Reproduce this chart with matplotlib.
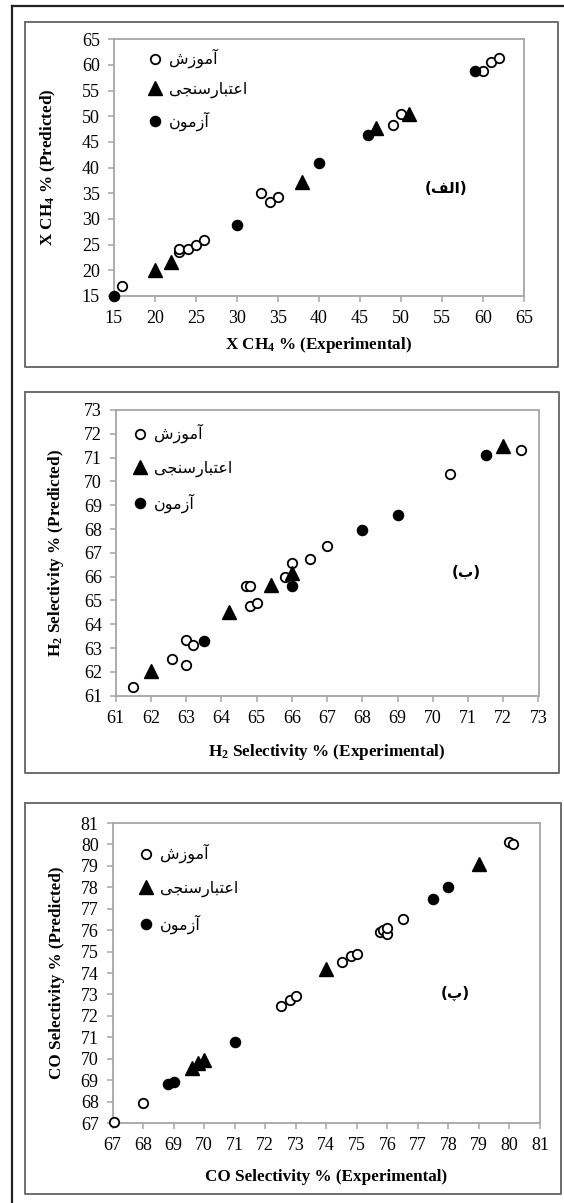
import matplotlib
matplotlib.use("Agg")
import matplotlib.pyplot as plt
from matplotlib.lines import Line2D

# ---------------- data ----------------
# Panel (الف): X CH4 %
ch4_train_x = [16, 23, 23, 24, 25, 26, 33, 34, 35, 49, 50, 60, 61, 62]
ch4_train_y = [17, 23.6, 24.1, 24.1, 24.9, 26, 35, 33.4, 34.2, 48.4, 50.4, 58.8, 60.5, 61.3]
ch4_val_x = [20, 22, 38, 47, 51]
ch4_val_y = [20, 21.7, 37.2, 47.8, 50.5]
ch4_test_x = [15, 30, 40, 46, 59]
ch4_test_y = [15, 28.9, 41, 46.4, 58.8]

# Panel (ب): H2 selectivity %
h2_train_x = [61.5, 62.6, 63, 63, 63.2, 64.7, 64.8, 64.8, 65, 65.8, 66, 66.5, 67, 70.5, 72.5]
h2_train_y = [61.35, 62.55, 62.3, 63.33, 63.15, 65.6, 65.6, 64.78, 64.9, 66.0, 66.57, 66.75, 67.27, 70.3, 71.3]
h2_val_x = [62, 64.2, 65.4, 66, 72]
h2_val_y = [62.05, 64.5, 65.65, 66.15, 71.5]
h2_test_x = [63.5, 66, 68, 69, 71.5]
h2_test_y = [63.3, 65.62, 67.97, 68.57, 71.1]

# Panel (پ): CO selectivity %
co_train_x = [67.05, 68, 72.5, 72.8, 73, 74.5, 74.8, 75, 75.75, 75.85, 76, 76, 76.5, 80, 80.1]
co_train_y = [67.05, 67.95, 72.45, 72.75, 72.95, 74.5, 74.8, 74.88, 75.9, 76.0, 75.82, 76.1, 76.5, 80.1, 80.0]
co_val_x = [69.6, 69.8, 70, 74, 79]
co_val_y = [69.55, 69.8, 69.95, 74.2, 79.1]
co_test_x = [68.8, 69, 71, 77.5, 78]
co_test_y = [68.8, 68.9, 70.8, 77.45, 78]

legend_labels = ['آموزش', 'اعتبارسنجی', 'آزمون']
panel_tags = ['(الف)', '(ب)', '(پ)']

ch4_ticks = list(range(15, 66, 5))
h2_ticks = list(range(61, 74, 1))
co_ticks = list(range(67, 82, 1))

xlabels = [r'X CH$_\mathbf{4}$ % (Experimental)',
           r'H$_\mathbf{2}$ Selectivity % (Experimental)',
           'CO Selectivity % (Experimental)']
ylabels = [r'X CH$_\mathbf{4}$ % (Predicted)',
           r'H$_\mathbf{2}$ Selectivity % (Predicted)',
           'CO Selectivity % (Predicted)']

# ------------- simple Persian shaping for display -------------
FORMS = {
    '\u0622': ('\uFE81', '\uFE82', None, None),
    '\u0627': ('\uFE8D', '\uFE8E', None, None),
    '\u0628': ('\uFE8F', '\uFE90', '\uFE91', '\uFE92'),
    '\u062A': ('\uFE95', '\uFE96', '\uFE97', '\uFE98'),
    '\u062C': ('\uFE9D', '\uFE9E', '\uFE9F', '\uFEA0'),
    '\u0631': ('\uFEAD', '\uFEAE', None, None),
    '\u0632': ('\uFEAF', '\uFEB0', None, None),
    '\u0633': ('\uFEB1', '\uFEB2', '\uFEB3', '\uFEB4'),
    '\u0634': ('\uFEB5', '\uFEB6', '\uFEB7', '\uFEB8'),
    '\u0639': ('\uFEC9', '\uFECA', '\uFECB', '\uFECC'),
    '\u0641': ('\uFED1', '\uFED2', '\uFED3', '\uFED4'),
    '\u0644': ('\uFEDD', '\uFEDE', '\uFEDF', '\uFEE0'),
    '\u0645': ('\uFEE1', '\uFEE2', '\uFEE3', '\uFEE4'),
    '\u0646': ('\uFEE5', '\uFEE6', '\uFEE7', '\uFEE8'),
    '\u0648': ('\uFEED', '\uFEEE', None, None),
    '\u067E': ('\uFB56', '\uFB57', '\uFB58', '\uFB59'),
    '\u06CC': ('\uFBFC', '\uFBFD', '\uFBFE', '\uFBFF'),
}


def shape(s):
    out = []
    for i, c in enumerate(s):
        if c not in FORMS:
            out.append(c)
            continue
        f = FORMS[c]
        prev = s[i - 1] if i > 0 else None
        nxt = s[i + 1] if i + 1 < len(s) else None
        jp = prev in FORMS and FORMS[prev][2] is not None
        jn = f[2] is not None and nxt in FORMS
        if jp and jn:
            out.append(f[3])
        elif jp:
            out.append(f[1])
        elif jn:
            out.append(f[2])
        else:
            out.append(f[0])
    vis = ''.join(reversed(out))
    return vis.translate(str.maketrans('()', ')('))


# ---------------- figure ----------------
plt.rcParams['font.family'] = ['Liberation Serif', 'DejaVu Sans']
plt.rcParams['mathtext.fontset'] = 'custom'
plt.rcParams['mathtext.rm'] = 'Liberation Serif'
plt.rcParams['mathtext.it'] = 'Liberation Serif:italic'
plt.rcParams['mathtext.bf'] = 'Liberation Serif:bold'

W, H = 564, 1203
fig = plt.figure(figsize=(W / 100, H / 100), dpi=100)


def ax_rect(l, t, r, b):
    return [l / W, 1 - b / H, (r - l) / W, (b - t) / H]


# outer frame (left & top only visible)
fig.add_artist(Line2D([12 / W, 12 / W], [0, 1 - 6 / H], transform=fig.transFigure,
                      color='#222222', lw=1.6))
fig.add_artist(Line2D([12 / W, 1], [1 - 6 / H, 1 - 6 / H], transform=fig.transFigure,
                      color='#222222', lw=1.6))

panel_boxes = [(24.5, 21.7, 558, 366.7), (24.5, 392, 559, 773), (24.5, 802.7, 561, 1194)]
for (l, t, r, b) in panel_boxes:
    xs = [l / W, r / W, r / W, l / W, l / W]
    ys = [1 - t / H, 1 - t / H, 1 - b / H, 1 - b / H, 1 - t / H]
    fig.add_artist(Line2D(xs, ys, transform=fig.transFigure, color='#6e6e6e', lw=1.4))

axes_px = [(113.7, 39.3, 524, 296), (115.8, 410, 538.5, 695.7), (112.6, 823, 540, 1123)]

panels = [
    (ch4_train_x, ch4_train_y, ch4_val_x, ch4_val_y, ch4_test_x, ch4_test_y, ch4_ticks),
    (h2_train_x, h2_train_y, h2_val_x, h2_val_y, h2_test_x, h2_test_y, h2_ticks),
    (co_train_x, co_train_y, co_val_x, co_val_y, co_test_x, co_test_y, co_ticks),
]

# label/legend/tag placement (pixels)
ylabel_x = [48, 56, 57.5]
xlabel_y = [345, 751.7, 1176.7]
legend_anchor = [(147, 49), (132, 424), (138, 844)]
tag_pos = [(55.5, 36), (70.94, 66.17), (78.24, 73.03)]
legend_spacing = [0.85, 1.05, 1.1]

spine_col = '#a6a6a6'
for i, (tx, ty, vx, vy, sx, sy, ticks) in enumerate(panels):
    l, t, r, b = axes_px[i]
    ax = fig.add_axes(ax_rect(l, t, r, b))
    ax.plot(tx, ty, 'o', mfc='white', mec='black', mew=1.3, ms=6.8,
            label=shape(legend_labels[0]), zorder=3, clip_on=False)
    ax.plot(vx, vy, '^', color='black', ms=9.5, label=shape(legend_labels[1]),
            zorder=3, clip_on=False)
    ax.plot(sx, sy, 'o', color='black', ms=7.3, label=shape(legend_labels[2]),
            zorder=3, clip_on=False)
    ax.set_xlim(ticks[0], ticks[-1])
    ax.set_ylim(ticks[0], ticks[-1])
    ax.set_xticks(ticks)
    ax.set_yticks(ticks)
    for sp in ax.spines.values():
        sp.set_color(spine_col)
        sp.set_linewidth(1.3)
    ax.tick_params(direction='out', length=4, width=1.1, color=spine_col,
                   labelsize=13, labelcolor='black', pad=6)
    for lab in ax.get_xticklabels() + ax.get_yticklabels():
        lab.set_fontfamily('Liberation Serif')

    ax.set_xlabel(xlabels[i], fontsize=12.3, fontweight='bold', family='Liberation Serif')
    ax.set_ylabel(ylabels[i], fontsize=12.3, fontweight='bold', family='Liberation Serif')
    ax.xaxis.set_label_coords(0.5, (b - xlabel_y[i]) / (b - t), transform=ax.transAxes)
    ax.yaxis.set_label_coords((ylabel_x[i] - l) / (r - l), 0.5, transform=ax.transAxes)
    ax.xaxis.label.set_va('center')
    ax.yaxis.label.set_ha('center')
    ax.yaxis.label.set_va('center')

    ax_l, ax_t = legend_anchor[i]
    ax.legend(loc='upper left',
              bbox_to_anchor=((ax_l - l) / (r - l), (b - ax_t) / (b - t)),
              frameon=False, borderpad=0, borderaxespad=0,
              handlelength=1.0, handletextpad=0.35,
              labelspacing=legend_spacing[i],
              prop={'family': 'DejaVu Sans', 'size': 11.5})

    ax.text(tag_pos[i][0], tag_pos[i][1], shape(panel_tags[i]), ha='center', va='center',
            fontsize=11, fontweight='bold', family='DejaVu Sans')

fig.savefig('out.png', dpi=100)
